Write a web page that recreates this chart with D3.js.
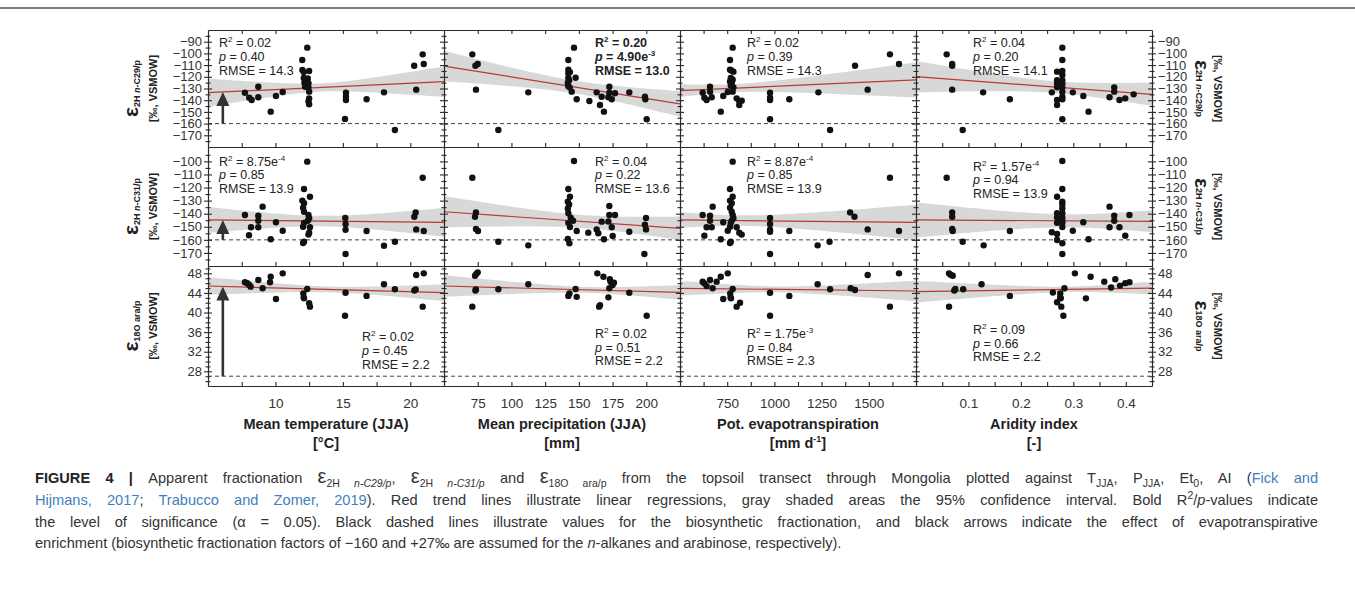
<!DOCTYPE html>
<html>
<head>
<meta charset="utf-8">
<script src="https://cdn.jsdelivr.net/npm/d3@7/dist/d3.min.js"></script>
<style>
  html, body { margin: 0; padding: 0; background: #fff; }
  svg { display: block; font-family: "Liberation Sans", Arial, Helvetica, sans-serif; }
</style>
</head>
<body>
<svg id="fig" width="1355" height="594"></svg>
<script>
// ---------- explanatory variables (columns) ----------
const columnTitles = ["Mean temperature (JJA)", "Mean precipitation (JJA)", "Pot. evapotranspiration", "Aridity index"];
const columnDomains = [[5, 22.5], [50, 225], [500, 1750], [0, 0.45]];
const columnTickValues = [
  [7.5, 10, 12.5, 15, 17.5, 20],
  [75, 100, 125, 150, 175, 200],
  [625, 750, 875, 1000, 1125, 1250, 1375, 1500, 1625],
  [0.05, 0.1, 0.15, 0.2, 0.25, 0.3, 0.35, 0.4]
];
const columnTickLabels = [
  [10, 15, 20],
  [75, 100, 125, 150, 175, 200],
  [750, 1000, 1250, 1500],
  [0.1, 0.2, 0.3, 0.4]
];

// ---------- apparent fractionation (rows) ----------
const rowDomains = [[-180, -80], [-180, -89], [25, 49.5]];
const rowMajorTicks = [
  [-170, -160, -150, -140, -130, -120, -110, -100, -90],
  [-170, -160, -150, -140, -130, -120, -110, -100],
  [28, 32, 36, 40, 44, 48]
];
const rowMinorTicks = [
  [-175, -165, -155, -145, -135, -125, -115, -105, -95, -85],
  [-175, -165, -155, -145, -135, -125, -115, -105, -95],
  [26, 27, 29, 30, 31, 33, 34, 35, 37, 38, 39, 41, 42, 43, 45, 46, 47, 49]
];
const biosyntheticLevels = [-160, -160, 27];

// ---------- ε2H n-C29/p ----------
const c29_T = [[7.74,-133.6],[8.06,-137.9],[8.24,-139.8],[8.73,-128.5],[8.73,-137.5],[9.65,-149.8],[10.04,-136.4],[10.54,-133],
  [11.99,-105.6],[12.36,-95.1],[12.0,-114.2],[12.1,-116],[12.5,-115],[12.1,-121],[12.3,-122],[12.4,-121.5],[12.15,-125],[12.3,-126],
  [12.45,-125.5],[12.2,-128.5],[12.45,-129],[12.5,-132.7],[12.5,-138.4],[12.45,-141],[12.5,-143.5],
  [15.23,-133.6],[15.23,-137],[15.23,-139.8],[15.16,-156],[16.76,-139.2],[18.05,-133.3],[18.86,-165.5],
  [20.29,-110.5],[20.92,-100.8],[21.0,-109],[20.44,-131]];
const c29_P = [[71.0,-100.8],[73.3,-110.5],[75,-109],[73.7,-131],[90.3,-165.5],[112.5,-133.3],
  [146.4,-95.1],[142.2,-105.6],[142.2,-114],[143.4,-116],[142.2,-117],[142.2,-121],[142.8,-123],[141.8,-125],[142.2,-128],
  [143.2,-129],[147.6,-120.8],[144.7,-132.7],[148.4,-139.2],
  [157.8,-140.7],[163.2,-133.3],[165.7,-144.1],[166.9,-137],[168.6,-149.8],[172.6,-128.5],[172.6,-133.6],[171.9,-137.5],
  [174.4,-139.2],[176.8,-134.1],[187.4,-133.3],[199,-137],[199.3,-139.2],[200.3,-156.3]];
const c29_Et = [[620,-133.6],[629,-137.9],[641,-139.8],[659,-128.5],[659,-132.7],[668,-137.5],[716,-149.8],[729,-136.4],[753,-133],
  [779,-95.1],[765,-105.6],[765,-114],[783,-115.6],[772,-114.6],[769,-121],[779,-122.5],[765,-124],[774,-125.5],[769,-127.5],
  [783,-129],[779,-132.7],[800,-138.4],[814,-140.7],[814,-144.1],[827,-140.4],
  [977,-133.6],[977,-137.9],[977,-139.8],[977,-156.3],[1079,-139.2],[1233,-133.3],[1295,-165.5],
  [1427,-110.5],[1612,-100.8],[1660,-109],[1494,-131]];
const c29_AI = [[0.0585,-100.8],[0.069,-109],[0.069,-110.5],[0.069,-131],[0.089,-165.5],[0.128,-133.3],[0.179,-139.2],
  [0.279,-95.1],[0.279,-105.6],[0.269,-115.6],[0.279,-115],[0.279,-118.5],[0.269,-123],[0.279,-123],[0.269,-126],[0.279,-126],
  [0.269,-129],[0.279,-129],[0.259,-133.3],[0.279,-132.7],[0.279,-137],[0.279,-139.2],[0.269,-139.8],[0.269,-144.1],[0.279,-156.3],
  [0.299,-133.3],[0.319,-136.4],[0.329,-149.8],[0.369,-137.5],[0.378,-129],[0.378,-132.7],[0.388,-139.8],[0.399,-138.4],[0.415,-135]];

// ---------- ε2H n-C31/p ----------
const c31_T = [[7.74,-141],[8.04,-156.5],[8.19,-150.4],[8.73,-141.5],[8.73,-145.4],[8.73,-150.4],[9.05,-134.6],[9.65,-159.6],
  [10.04,-146.6],[10.54,-153],
  [12.36,-100.2],[12.12,-121.1],[12.56,-127],[12.0,-130],[12.12,-132],[12.05,-135.5],[12.12,-138.5],[12.45,-141],[12.5,-143.5],
  [12.4,-145.4],[12.12,-147],[12.05,-150],[12.56,-150.4],[12.5,-154.5],[12.45,-156],[12.12,-161.4],[12.05,-162.4],
  [15.18,-143.3],[15.2,-147.8],[15.2,-152.3],[15.2,-170.8],
  [16.76,-153.2],[18.05,-164.5],[18.86,-161.4],[20.3,-142.3],[20.4,-139],[20.44,-152],[20.92,-112.5],[21.0,-153.2]];
const c31_P = [[71,-112.5],[73.7,-139],[73,-142.3],[73.7,-151.7],[75.2,-153.2],[90.3,-161.4],[112.5,-164.2],
  [146.4,-99.7],[142.2,-121.1],[143.4,-127],[141.8,-130.8],[142.8,-133],[141.8,-136],[142.2,-139.7],[144,-143],[145.7,-145.4],
  [142.2,-147],[143.4,-150.2],[141.8,-159.4],[143,-162.6],[148.4,-153.2],
  [157,-154.5],[163.2,-152],[164.4,-155],[166.9,-146.1],[168.6,-159.6],[172.6,-134.1],[172.6,-141],[171.9,-146],[174.4,-150.4],
  [175.1,-157],[176.8,-141],[187.4,-153.8],[199.8,-143.3],[199,-148.5],[199.8,-152],[198.6,-170.8]];
const c31_Et = [[620,-141],[629,-156.8],[641,-150.4],[659,-141.5],[659,-145.4],[668,-150.4],[673,-134.6],[716,-159.6],[729,-146.6],[753,-153],
  [779,-100.2],[765,-121.1],[779,-127],[765,-130],[774,-132],[765,-135.5],[774,-138.5],[779,-141],[783,-143.5],[774,-145.4],
  [769,-147],[765,-150],[800,-150.4],[814,-154.5],[827,-156],[769,-161.4],[765,-162.4],
  [977,-143.3],[977,-147.8],[977,-152.3],[977,-153.8],[977,-170.8],[1079,-153.2],[1229,-164.2],[1292,-161.4],
  [1401,-139],[1424,-142.3],[1494,-152],[1612,-112.5],[1660,-153.2]];
const c31_AI = [[0.0585,-112.5],[0.069,-139],[0.069,-142.3],[0.069,-151.7],[0.07,-153.2],[0.089,-161.4],[0.129,-164.2],[0.179,-153.2],
  [0.279,-99.7],[0.279,-121.1],[0.269,-127],[0.279,-130.8],[0.279,-133],[0.279,-136],[0.269,-139.7],[0.279,-139.7],[0.269,-143],
  [0.279,-143],[0.279,-145.4],[0.269,-147],[0.279,-147],[0.279,-150.2],[0.259,-154.2],[0.269,-155.5],[0.269,-160.1],[0.279,-162.6],
  [0.279,-170.8],[0.299,-153],[0.319,-146.6],[0.329,-159.6],[0.369,-134.6],[0.369,-150.4],[0.378,-141.5],[0.378,-145.4],
  [0.388,-150.4],[0.399,-156.8],[0.407,-141]];

// ---------- ε18O ara/p ----------
const ara_T = [[7.74,46.17],[7.91,45.97],[8.06,45.62],[8.16,45.28],[8.73,46.64],[9.05,44.95],[9.65,47.32],[9.6,46.17],[10.04,42.76],
  [10.54,48.0],[12.07,43.9],[12.1,43.1],[12.12,42.9],[12.36,44.8],[12.5,41.9],[12.56,41.2],[15.2,44.05],[15.16,39.35],
  [16.76,43.4],[18.05,45.76],[18.86,44.74],[20.3,44.5],[20.4,44.7],[20.44,47.66],[21.0,48.0],[20.92,41.2]];
const ara_P = [[71,41.2],[73,47.5],[74,47.9],[75,48.2],[73.3,44.5],[73.7,44.7],[90.3,44.74],[112.5,45.76],[142.2,43.4],[143,43.9],
  [148.4,43.2],[147.6,44.8],[163.7,48.0],[165,41.2],[165.7,41.5],[168.2,47.3],[171.9,43.1],[173,46.8],[173.5,46.3],[172.6,44.95],
  [175,45.6],[176,46.1],[187.4,44.05],[200.3,39.35]];
const ara_Et = [[620,46.3],[629,45.96],[641,45.4],[659,46.64],[673,44.95],[694,46.3],[716,47.3],[729,42.76],[753,48.0],[766,43.9],
  [768,43.1],[770,42.9],[779,44.8],[800,41.2],[818,42.0],[977,44.05],[977,39.35],[1079,43.4],[1229,45.76],[1295,44.74],
  [1404,44.95],[1427,44.6],[1494,47.66],[1612,41.2],[1660,48.0]];
const ara_AI = [[0.063,48.0],[0.066,47.7],[0.07,47.5],[0.063,41.2],[0.073,44.5],[0.075,44.8],[0.09,44.74],[0.125,45.76],[0.179,43.4],
  [0.261,44.1],[0.269,42.1],[0.275,43.9],[0.275,43.1],[0.276,42.9],[0.277,41.2],[0.281,39.35],[0.283,44.95],[0.303,48.0],
  [0.324,42.9],[0.333,47.3],[0.359,46.3],[0.372,45.1],[0.38,46.8],[0.389,45.5],[0.399,46.0],[0.407,46.2]];

// regression fits per panel: [fit at left edge, fit at right edge, CI half-width left, minimum CI half-width, CI half-width right]
const fitC29 = [[-133.6,-124.2,12,3.5,13],[-110.8,-143.2,13,5.5,11],[-131.8,-122.7,5.5,3.5,15],[-119.9,-135,13.5,5,10]];
const fitC31 = [[-144.8,-146.6,10,4,11],[-138.5,-151.2,12,5,9],[-144.8,-146.6,6,4,13.5],[-144.8,-145.8,13.5,5,8.5]];
const fitAra = [[45.42,44.05,1.8,0.6,1.7],[45.42,44.1,2.2,0.6,1.5],[44.95,44.4,1.5,0.6,2.1],[44.25,45.0,2.2,0.55,1.3]];

// regression statistics per panel: [R², p, RMSE]
const statsC29 = [["0.02","0.40","14.3"],["0.20","4.90e-3","13.0"],["0.02","0.39","14.3"],["0.04","0.20","14.1"]];
const statsC31 = [["8.75e-4","0.85","13.9"],["0.04","0.22","13.6"],["8.87e-4","0.85","13.9"],["1.57e-4","0.94","13.9"]];
const statsAra = [["0.02","0.45","2.2"],["0.02","0.51","2.2"],["1.75e-3","0.84","2.3"],["0.09","0.66","2.2"]];
const significantC29 = [false, true, false, false];

const pointsByRow = [[c29_T, c29_P, c29_Et, c29_AI], [c31_T, c31_P, c31_Et, c31_AI], [ara_T, ara_P, ara_Et, ara_AI]];
const fitsByRow = [fitC29, fitC31, fitAra];
const statsByRow = [statsC29, statsC31, statsAra];

// ---------- layout ----------
const L = 208, colW = 236;
const rowTop = [30, 147, 266], rowBot = [147, 266, 386];
const ink = "#2a2a2a";
const arrowAt = 6.1;                 // temperature at which the enrichment arrows stand
const statDX = [[11, 151, 67, 57], [11, 151, 67, 57], [154, 151, 67, 57]];
const statY = [[42.5, 42.5, 42.5, 42.5], [161, 161, 161, 166], [336.5, 333.3, 333.3, 329.3]];

const svg = d3.select("#fig");
const xScales = columnDomains.map((d, i) => d3.scaleLinear().domain(d).range([L + i * colW, L + (i + 1) * colW]));
const yScales = rowDomains.map((d, r) => d3.scaleLinear().domain(d).range([rowBot[r], rowTop[r]]));

// top rule of the figure box
svg.append("line").attr("x1", 0).attr("x2", 1355).attr("y1", 8).attr("y2", 8)
  .attr("stroke", "#555").attr("stroke-width", 1.6);

// hyperbolic confidence band around a straight fit line
function bandModel(fit, dom) {
  const [yl, yr, hl, hm, hr] = fit;
  const [x0, x1] = dom;
  const A = Math.sqrt(Math.max(hl * hl - hm * hm, 0)), B = Math.sqrt(Math.max(hr * hr - hm * hm, 0));
  const xm = (x0 * B + x1 * A) / (A + B);
  const k = (A + B) / (x1 - x0);
  const line = x => yl + (yr - yl) * (x - x0) / (x1 - x0);
  const half = x => Math.sqrt(hm * hm + k * k * (x - xm) * (x - xm));
  return { line, half };
}

const defs = svg.append("defs");

rowDomains.forEach((rd, r) => {
  const y = yScales[r];
  columnDomains.forEach((cd, c) => {
    const x = xScales[c];
    const clipId = `clip-${r}-${c}`;
    defs.append("clipPath").attr("id", clipId).append("rect")
      .attr("x", x.range()[0]).attr("y", rowTop[r]).attr("width", colW).attr("height", rowBot[r] - rowTop[r]);
    const g = svg.append("g").attr("clip-path", `url(#${clipId})`);
    const { line, half } = bandModel(fitsByRow[r][c], cd);
    const xs = d3.range(0, 81).map(i => cd[0] + (cd[1] - cd[0]) * i / 80);

    g.append("path").datum(xs).attr("fill", "#d8d8d8")
      .attr("d", d3.area().x(d => x(d)).y0(d => y(line(d) - half(d))).y1(d => y(line(d) + half(d))));

    g.append("line")
      .attr("x1", x.range()[0]).attr("x2", x.range()[1])
      .attr("y1", y(biosyntheticLevels[r])).attr("y2", y(biosyntheticLevels[r]))
      .attr("stroke", "#444").attr("stroke-width", 1).attr("stroke-dasharray", "4,3");

    g.append("path").datum(cd).attr("fill", "none").attr("stroke", "#b83a32").attr("stroke-width", 1.2)
      .attr("d", d3.line().x(d => x(d)).y(d => y(line(d))));

    g.selectAll("circle").data(pointsByRow[r][c]).join("circle")
      .attr("cx", d => x(d[0])).attr("cy", d => y(d[1])).attr("r", 3.2).attr("fill", "#111");

    // enrichment arrow from the biosynthetic level up to the fit
    if (c === 0) {
      const ax = x(arrowAt);
      const yBase = y(biosyntheticLevels[r]);
      const yTip = y(line(arrowAt));
      const headL = 14, headW = 6.5;
      svg.append("line").attr("x1", ax).attr("x2", ax).attr("y1", yBase).attr("y2", yTip + headL - 1)
        .attr("stroke", "#333").attr("stroke-width", 2.6);
      svg.append("path").attr("fill", "#333")
        .attr("d", `M${ax},${yTip} L${ax - headW},${yTip + headL} L${ax + headW},${yTip + headL} Z`);
    }

    // regression statistics
    const st = statsByRow[r][c];
    const bold = r === 0 && significantC29[c];
    const sx = x.range()[0] + statDX[r][c];
    const sy = statY[r][c] + 4.5;
    const lh = 13.8;
    const mk = (yy) => svg.append("text").attr("x", sx).attr("y", yy).attr("font-size", 12.5)
      .attr("fill", "#222").attr("font-weight", bold ? "bold" : "normal");
    const addNum = (t, s) => {
      if (s.includes("e")) {
        const [m, e] = s.split("e");
        t.append("tspan").text(m + "e");
        t.append("tspan").attr("font-size", 8).attr("dy", -5).text(e);
        t.append("tspan").attr("dy", 5).text("");
      } else t.append("tspan").text(s);
    };
    const t1 = mk(sy);
    t1.append("tspan").text("R");
    t1.append("tspan").attr("font-size", 8).attr("dy", -5).text("2");
    t1.append("tspan").attr("dy", 5).text(" = ");
    addNum(t1, st[0]);
    const t2 = mk(sy + lh);
    t2.append("tspan").attr("font-style", "italic").text("p");
    t2.append("tspan").text(" = ");
    addNum(t2, st[1]);
    const t3 = mk(sy + 2 * lh);
    t3.append("tspan").text("RMSE = " + st[2]);
  });
});

// ---------- axes ----------
const fmtY = d => (d < 0 ? "\u2212" + Math.abs(d) : String(d));
const styleAxis = g => {
  g.attr("font-family", null).attr("font-size", 13);
  g.selectAll(".domain").attr("stroke", ink).attr("stroke-width", 1.2);
  g.selectAll(".tick line").attr("stroke", ink).attr("stroke-width", 1.1);
  g.selectAll(".tick text").attr("fill", "#333");
};

rowDomains.forEach((rd, r) => {
  const y = yScales[r];
  for (let c = 0; c <= 4; c++) {
    const xp = L + c * colW;
    const labelled = c === 0 || c === 4;
    const major = (c === 4 ? d3.axisRight(y) : d3.axisLeft(y))
      .tickValues(rowMajorTicks[r]).tickSize(4).tickSizeOuter(0).tickPadding(2)
      .tickFormat(labelled ? fmtY : () => "");
    const ga = svg.append("g").attr("transform", `translate(${xp},0)`).call(major).call(styleAxis);
    ga.selectAll(".tick line").attr("x1", -4).attr("x2", 4);
    const minor = d3.axisLeft(y).tickValues(rowMinorTicks[r]).tickSize(2.5).tickSizeOuter(0).tickFormat(() => "");
    const gm = svg.append("g").attr("transform", `translate(${xp},0)`).call(minor).call(styleAxis);
    gm.select(".domain").remove();
    gm.selectAll(".tick line").attr("x1", -2.5).attr("x2", 2.5);
  }
});

columnDomains.forEach((cd, c) => {
  const x = xScales[c];
  const labels = columnTickLabels[c];
  const fmtX = d => (labels.some(v => Math.abs(v - d) < 1e-9) ? String(+d.toFixed(2)) : "");
  rowBot.forEach((yb, r) => {
    const ax = d3.axisBottom(x).tickValues(columnTickValues[c]).tickSize(-4).tickSizeOuter(0).tickPadding(12)
      .tickFormat(r === 2 ? fmtX : () => "");
    svg.append("g").attr("transform", `translate(0,${yb})`).call(ax).call(styleAxis)
      .attr("font-size", 13.5);
  });
  const top = d3.axisTop(x).tickValues(columnTickValues[c]).tickSize(-4).tickSizeOuter(0).tickFormat(() => "");
  svg.append("g").attr("transform", `translate(0,${rowTop[0]})`).call(top).call(styleAxis);
});

// ---------- axis titles ----------
const columnUnitParts = [[["[°C]", 0]], [["[mm]", 0]], [["[mm d", 0], ["-1", 1], ["]", 0]], [["[-]", 0]]];
columnTitles.forEach((title, c) => {
  const cx = L + c * colW + colW / 2;
  svg.append("text").attr("x", cx).attr("y", 429).attr("text-anchor", "middle")
    .attr("font-weight", "bold").attr("font-size", 14.5).attr("fill", "#222").text(title);
  const u = svg.append("text").attr("x", cx).attr("y", 448).attr("text-anchor", "middle")
    .attr("font-weight", "bold").attr("font-size", 14.5).attr("fill", "#222");
  let raised = false;
  columnUnitParts[c].forEach(([s, sup]) => {
    const ts = u.append("tspan").text(s);
    if (sup) { ts.attr("font-size", 9).attr("dy", -6); raised = true; }
    else if (raised) { ts.attr("dy", 6); raised = false; }
  });
});

const rowSubscripts = [[["2H ", 0], ["n", 1], ["-C29/p", 0]], [["2H ", 0], ["n", 1], ["-C31/p", 0]], [["18O ara/p", 0]]];
rowDomains.forEach((rd, r) => {
  const cy = (rowTop[r] + rowBot[r]) / 2;
  // left titles read upwards, right titles read downwards
  [[138, -90], [1195, 90]].forEach(([bx, rot]) => {
    const t = svg.append("text").attr("transform", `translate(${bx},${cy}) rotate(${rot})`)
      .attr("text-anchor", "middle").attr("font-weight", "bold").attr("fill", "#222");
    t.append("tspan").attr("font-size", 21).text("\u03b5");
    rowSubscripts[r].forEach(([s, it], i) => {
      const ts = t.append("tspan").attr("font-size", 9).text(s);
      if (i === 0) ts.attr("dy", rot < 0 ? 2 : -1);
      if (it) ts.attr("font-style", "italic");
    });
  });
  [[157, -90], [1214, 90]].forEach(([bx, rot]) => {
    svg.append("text").attr("transform", `translate(${bx},${cy}) rotate(${rot})`)
      .attr("text-anchor", "middle").attr("font-weight", "bold").attr("font-size", 11).attr("fill", "#222")
      .text("[\u2030, VSMOW]");
  });
});

// ---------- caption ----------
const captionLines = [
  [["FIGURE 4 | ", "b"], ["Apparent fractionation ", ""], ["\u03b5", "eps"], ["2H ", "sub"], ["n-C29/p", "subi"], [", ", ""],
   ["\u03b5", "eps"], ["2H ", "sub"], ["n-C31/p", "subi"], [" and ", ""], ["\u03b5", "eps"], ["18O ara/p", "sub"],
   [" from the topsoil transect through Mongolia plotted against T", ""], ["JJA", "sub"], [", P", ""], ["JJA", "sub"],
   [", Et", ""], ["0", "sub"], [", AI (", ""], ["Fick and", "blue"]],
  [["Hijmans, 2017", "blue"], ["; ", ""], ["Trabucco and Zomer, 2019", "blue"],
   ["). Red trend lines illustrate linear regressions, gray shaded areas the 95% confidence interval. Bold R", ""],
   ["2", "sup"], ["/", ""], ["p", "i"], ["-values indicate", ""]],
  [["the level of significance (\u03b1 = 0.05). Black dashed lines illustrate values for the biosynthetic fractionation, and black arrows indicate the effect of evapotranspirative", ""]],
  [["enrichment (biosynthetic fractionation factors of \u2212160 and +27\u2030 are assumed for the ", ""], ["n", "i"],
   ["-alkanes and arabinose, respectively).", ""]]
];
const capX = 35, capRight = 1318, capY0 = 483, capLH = 21.8;
captionLines.forEach((segs, li) => {
  const t = svg.append("text").attr("x", capX).attr("y", capY0 + li * capLH)
    .attr("font-size", 14.6).attr("fill", "#333");
  let off = 0;
  segs.forEach(([s, k]) => {
    let target = 0;
    const ts = t.append("tspan").text(s);
    if (k === "b") ts.attr("font-weight", "bold").attr("fill", "#222");
    if (k === "i") ts.attr("font-style", "italic");
    if (k === "blue") ts.attr("fill", "#3f7fc0");
    if (k === "eps") ts.attr("font-size", 20);
    if (k === "sub" || k === "subi") { ts.attr("font-size", 10.5); target = 4; }
    if (k === "subi") ts.attr("font-style", "italic");
    if (k === "sup") { ts.attr("font-size", 10.5); target = -6; }
    ts.attr("dy", target - off);
    off = target;
  });
  if (li < captionLines.length - 1) {
    const natural = t.node().getComputedTextLength();
    const spaces = (t.text().match(/ /g) || []).length;
    t.attr("word-spacing", (capRight - capX - natural) / spaces);
  }
});
</script>
</body>
</html>
